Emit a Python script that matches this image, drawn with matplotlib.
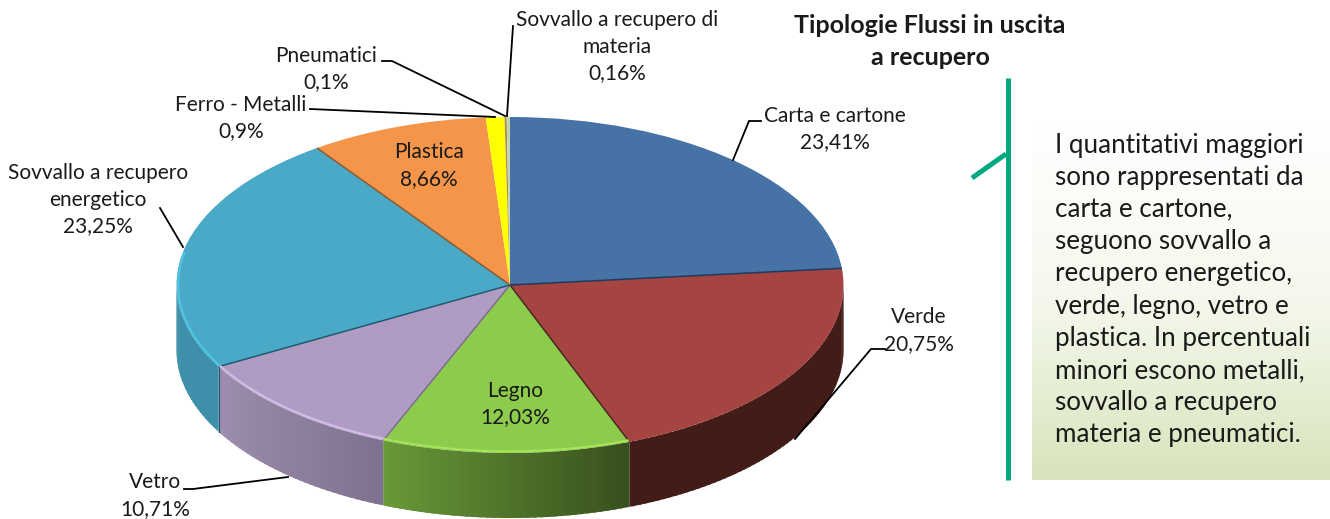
import numpy as np
import matplotlib
matplotlib.use("Agg")
import matplotlib.pyplot as plt
from matplotlib.collections import PolyCollection
from matplotlib.colors import LinearSegmentedColormap, to_rgb

categories = ["Carta e cartone", "Verde", "Legno", "Vetro", "Sovvallo a recupero\nenergetico",
              "Plastica", "Ferro - Metalli", "Pneumatici", "Sovvallo a recupero di\nmateria"]
values = [23.41, 20.75, 12.03, 10.71, 23.25, 8.66, 0.9, 0.1, 0.16]
percent_labels = ["23,41%", "20,75%", "12,03%", "10,71%", "23,25%", "8,66%", "0,9%", "0,1%", "0,16%"]
title_text = "Tipologie Flussi in uscita\na recupero"
note_text = ("I quantitativi maggiori\nsono rappresentati da\ncarta e cartone,\nseguono sovvallo a\n"
             "recupero energetico,\nverde, legno, vetro e\nplastica. In percentuali\nminori escono metalli,\n"
             "sovvallo a recupero\nmateria e pneumatici.")

top_colors = ["#4672A6", "#A64442", "#8CCB4B", "#B09CC3", "#4AA9C6", "#F4954A", "#FFFF00", "#A58C5A", "#C5D3B0"]
# wall colours, right end then left end of each sector's wall
side_right = ["#2C4A6E", "#431C18", "#38501E", "#7F7290", "#3E8FA9", "#A06030", "#A0A000", "#6A5A3A", "#808870"]
side_left = ["#2C4A6E", "#431C18", "#6A9A38", "#A08FB0", "#3E8FA9", "#A06030", "#A0A000", "#6A5A3A", "#808870"]
rim_colors = ["#4672A6", "#A64442", "#A4E35A", "#D0BCE4", "#4EC4E4", "#F4A050", "#FFFF00", "#A58C5A", "#C5D3B0"]
radial_colors = ["#1E3A5C", "#4A2620", "#7C6C92", "#1F5A70", "#8A5A30", "#F4954A", "#A0A000", "#6A5A3A", "#808870"]

W, H = 1330, 519
CX, CY, RX, RY, DEPTH = 510.0, 285.0, 333.5, 168.0, 65.0

plt.rcParams["font.family"] = ["Lato", "DejaVu Sans"]
fig = plt.figure(figsize=(W / 100, H / 100), dpi=100, facecolor="white")

ax = fig.add_axes([0, 0, 1, 1])
dep = DEPTH / RY
fractions = np.array(values) / np.sum(values)
edges = np.concatenate([[0], np.cumsum(fractions)]) * 2 * np.pi  # clockwise from 12 o'clock

polys, cols = [], []
for i in range(len(values)):
    a0, a1 = max(edges[i], np.pi / 2), min(edges[i + 1], 3 * np.pi / 2)
    if a1 <= a0:
        continue
    n = max(2, int((a1 - a0) / 0.02))
    t = np.linspace(a0, a1, n + 1)
    c0, c1 = np.array(to_rgb(side_right[i])), np.array(to_rgb(side_left[i]))
    for k in range(n):
        t_hi = min(t[k + 1] + 0.012, a1)   # overlap the next strip so no seams show
        tt = np.linspace(t[k], t_hi, 6)
        upper = list(zip(np.sin(tt), np.cos(tt)))
        lower = list(zip(np.sin(tt[::-1]), np.cos(tt[::-1]) - dep))
        polys.append(upper + lower)
        cols.append(c0 + (c1 - c0) * k / n)
ax.add_collection(PolyCollection(polys, facecolors=cols, edgecolors="none", linewidths=0, zorder=1))

ax.pie(values, colors=top_colors, startangle=90, counterclock=False, radius=1.0, center=(0, 0),
       wedgeprops=dict(linewidth=0, zorder=2), normalize=True)
ax.set_aspect("auto")
ax.set_xlim(-CX / RX, (W - CX) / RX)
ax.set_ylim(-(H - CY) / RY, CY / RY)
ax.set_position([0, 0, 1, 1])
ax.axis("off")

for i in range(len(values)):
    a1 = edges[i + 1]
    if i <= 4:
        ax.plot([0, np.sin(a1)], [0, np.cos(a1)], color=radial_colors[i], lw=1.1, zorder=3, solid_capstyle="butt")
    if i in (2, 3, 4):
        a0 = max(edges[i], np.pi / 2)
        a_end = min(a1, 3 * np.pi / 2 + 0.2)
        t = np.linspace(a0, a_end, 120)
        ax.plot(np.sin(t) * 0.995, np.cos(t) * 0.99, color=rim_colors[i], lw=1.6, zorder=3, solid_capstyle="butt")
# thin dark seam on the wall between Vetro and the energy sector
a = edges[4]
ax.plot([np.sin(a), np.sin(a)], [np.cos(a), np.cos(a) - dep], color=radial_colors[3], lw=0.9, zorder=2)

ov = fig.add_axes([0, 0, 1, 1], facecolor="none")
ov.set_xlim(0, W)
ov.set_ylim(H, 0)
ov.axis("off")

TXT = "#1a1a1a"
label_pos = [(835, 129), (919, 330.5), (515, 404), (155, 495.5), (98, 199.5), (429, 165.5), (241, 118), (326, 69), (617, 47)]
for name, pct, (x, y) in zip(categories, percent_labels, label_pos):
    ov.text(x, y, f"{name}\n{pct}", ha="center", va="center", fontsize=15.0, color=TXT, linespacing=1.41, zorder=6)

leaders = [
    [(733, 160), (749, 121), (761, 121)],
    [(795, 439), (871, 349), (885, 349)],
    [(288, 477), (193, 489), (184, 489)],
    [(183, 247), (160, 208)],
    [(382, 61), (392, 61), (505, 116)],
    [(310, 109), (495, 117)],
    [(513, 26), (507, 116)],
]
for pts in leaders:
    xs, ys = zip(*pts)
    ov.plot(xs, ys, color="black", lw=1.3, zorder=5, solid_joinstyle="miter")

ov.text(930, 41.5, title_text, ha="center", va="center", fontsize=18.0, fontweight="bold", color=TXT,
        linespacing=1.46, zorder=6)

cmap = LinearSegmentedColormap.from_list("panel", ["#FFFFFF", "#F4F8EC", "#D8E4BC"])
ov.imshow(np.linspace(0, 1, 256).reshape(-1, 1), extent=(1032, 1330, 480, 125), cmap=cmap, aspect="auto", zorder=1)
ov.set_xlim(0, W)
ov.set_ylim(H, 0)
ov.plot([1007.5, 1007.5], [78, 480], color="#00A97F", lw=3.6, solid_capstyle="butt", zorder=4)
ov.plot([972, 1006], [178, 154], color="#00A97F", lw=3.6, solid_capstyle="butt", zorder=4)
ov.text(1055, 290, note_text, ha="left", va="center", fontsize=18.7, color=TXT, linespacing=1.36, zorder=6)

fig.savefig("out.png", dpi=100, facecolor="white")
